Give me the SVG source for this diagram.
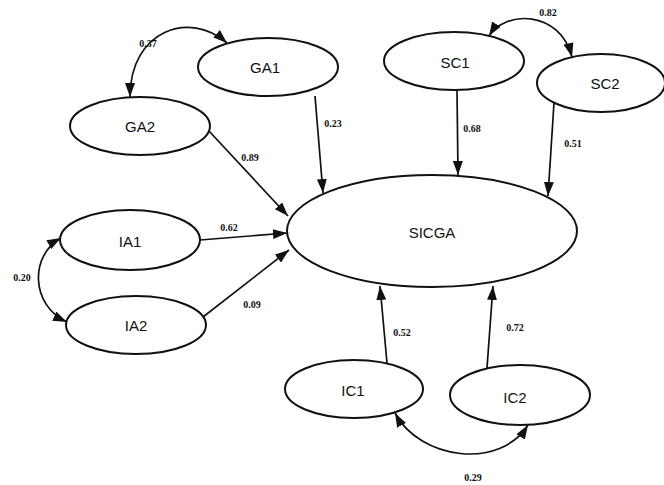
<svg xmlns="http://www.w3.org/2000/svg" width="664" height="485" viewBox="0 0 664 485">
  <style>
    .node ellipse { fill: #ffffff; stroke: #111111; stroke-width: 2; }
    .node text { font-family: "Liberation Sans", Arial, sans-serif; font-size: 15px; fill: #111111; text-anchor: middle; dominant-baseline: central; }
    .edge { fill: none; stroke: #111111; stroke-width: 1.7; }
    .path { marker-end: url(#head); }
    .cov { marker-start: url(#head); marker-end: url(#head); }
    .coef { font-family: "Liberation Serif", "Times New Roman", serif; font-size: 10px; font-weight: bold; fill: #111111; text-anchor: middle; dominant-baseline: central; }
  </style>
  <defs>
    <marker id="head" markerUnits="userSpaceOnUse" markerWidth="15" markerHeight="10" refX="14" refY="5" orient="auto-start-reverse">
      <path d="M0,0 L14,5 L0,10 z" fill="#111111"/>
    </marker>
  </defs>
  <rect width="664" height="485" fill="#ffffff"/>

  <!-- directed paths and covariance arcs -->
  <g id="connectors">
    <path class="edge path" d="M315,96 L323,193"/>
    <path class="edge path" d="M208,130 L288,216"/>
    <path class="edge path" d="M200,240 L287,233"/>
    <path class="edge path" d="M203,317 L289,250"/>
    <path class="edge path" d="M457,90 L458,175"/>
    <path class="edge path" d="M554,103 L548,196"/>
    <path class="edge path" d="M387,363 L380,286"/>
    <path class="edge path" d="M487,368 L493,286"/>
    <path class="edge cov" d="M130,97 C130,30 190,10 227,43"/>
    <path class="edge cov" d="M489,36 C505,10 560,10 572,57"/>
    <path class="edge cov" d="M61,238 C30,255 30,305 67,322"/>
    <path class="edge cov" d="M395,413 C420,460 500,470 528,425"/>
  </g>

  <!-- path coefficients -->
  <g id="labels">
    <text class="coef" x="148" y="43">0.37</text>
    <text class="coef" x="333" y="123">0.23</text>
    <text class="coef" x="250" y="157">0.89</text>
    <text class="coef" x="548" y="12">0.82</text>
    <text class="coef" x="472" y="128">0.68</text>
    <text class="coef" x="573" y="143">0.51</text>
    <text class="coef" x="229" y="227">0.62</text>
    <text class="coef" x="252" y="304">0.09</text>
    <text class="coef" x="22" y="277">0.20</text>
    <text class="coef" x="402" y="332">0.52</text>
    <text class="coef" x="515" y="327">0.72</text>
    <text class="coef" x="473" y="477">0.29</text>
  </g>

  <!-- latent variables -->
  <g id="SICGA" class="node"><ellipse cx="432" cy="231" rx="145" ry="56"/><text x="432" y="232">SICGA</text></g>
  <g id="GA1" class="node"><ellipse cx="268" cy="67" rx="70" ry="29"/><text x="265" y="67">GA1</text></g>
  <g id="GA2" class="node"><ellipse cx="140" cy="126" rx="70" ry="29"/><text x="140" y="126">GA2</text></g>
  <g id="SC1" class="node"><ellipse cx="454" cy="61" rx="70" ry="29"/><text x="455" y="62">SC1</text></g>
  <g id="SC2" class="node"><ellipse cx="601" cy="83" rx="64" ry="29"/><text x="605" y="83">SC2</text></g>
  <g id="IA1" class="node"><ellipse cx="130" cy="240" rx="70" ry="30"/><text x="130" y="241">IA1</text></g>
  <g id="IA2" class="node"><ellipse cx="136" cy="325" rx="70" ry="29"/><text x="136" y="325">IA2</text></g>
  <g id="IC1" class="node"><ellipse cx="354" cy="389" rx="69" ry="29"/><text x="353" y="390">IC1</text></g>
  <g id="IC2" class="node"><ellipse cx="520" cy="395" rx="70" ry="30"/><text x="515" y="397">IC2</text></g>
</svg>
